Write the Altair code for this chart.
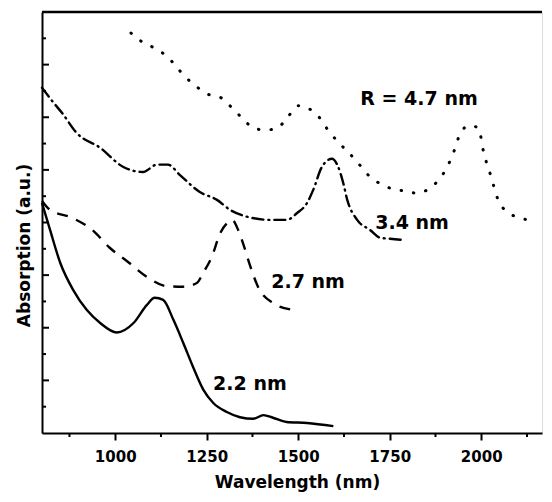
import altair as alt
import pandas as pd

# wavelength (nm) / absorption (a.u.)
wl_22 = [800, 822, 850, 885, 922, 959, 1004, 1050, 1086, 1108, 1131, 1159, 1186,
         1213, 1241, 1268, 1305, 1341, 1377, 1405, 1431, 1468, 1524, 1596]
ab_22 = [4.37, 3.86, 3.23, 2.72, 2.34, 2.09, 1.91, 2.09, 2.43, 2.57, 2.53, 2.15, 1.71,
         1.25, 0.82, 0.57, 0.40, 0.30, 0.27, 0.34, 0.29, 0.21, 0.19, 0.13]

wl_27 = [800, 822, 882, 937, 985, 1035, 1086, 1141, 1185, 1223, 1240, 1264, 1287,
         1306, 1320, 1332, 1349, 1368, 1390, 1431, 1486]
ab_27 = [4.41, 4.24, 4.09, 3.86, 3.52, 3.25, 2.97, 2.79, 2.78, 2.85, 3.04, 3.35, 3.80,
         3.99, 4.05, 3.92, 3.61, 3.19, 2.78, 2.47, 2.34]

wl_34 = [800, 830, 855, 895, 959, 1021, 1076, 1114, 1144, 1177, 1231, 1278, 1314,
         1360, 1423, 1469, 1497, 1524, 1541, 1565, 1592, 1609, 1623, 1634, 1661,
         1696, 1724, 1751, 1786]
ab_34 = [6.56, 6.29, 6.08, 5.70, 5.42, 5.06, 4.96, 5.10, 5.10, 4.90, 4.58, 4.43, 4.24,
         4.11, 4.05, 4.05, 4.18, 4.37, 4.62, 5.06, 5.21, 5.06, 4.75, 4.43, 4.05,
         3.86, 3.71, 3.69, 3.67]

wl_47 = [1043, 1074, 1106, 1139, 1194, 1226, 1256, 1289, 1319, 1349, 1382, 1415,
         1444, 1472, 1500, 1556, 1581, 1609, 1639, 1666, 1693, 1726, 1757, 1789,
         1822, 1884, 1920, 1945, 1967, 1992, 2007, 2026, 2046, 2071, 2106, 2138]
ab_47 = [7.60, 7.43, 7.32, 7.17, 6.75, 6.56, 6.43, 6.37, 6.18, 5.97, 5.78, 5.76,
         5.80, 6.01, 6.22, 6.01, 5.76, 5.53, 5.32, 5.11, 4.89, 4.73, 4.64, 4.60,
         4.56, 4.81, 5.25, 5.72, 5.84, 5.80, 5.32, 4.89, 4.43, 4.20, 4.09, 4.03]

label_text = ["2.2 nm", "2.7 nm", "3.4 nm", "R = 4.7 nm"]
label_wl = [1368, 1527, 1811, 1830]
label_ab = [0.93, 2.87, 3.99, 6.35]

x_ticks = [1000, 1250, 1500, 1750, 2000]
x_minor = [875, 1125, 1375, 1625, 1875, 2125]
y_major = [1, 2, 3, 4, 5, 6, 7]
y_minor = [0.5, 1.5, 2.5, 3.5, 4.5, 5.5, 6.5, 7.5]

W, H = 500, 421
FONT = "DejaVu Sans"

x_enc = alt.X(
    "wl:Q",
    scale=alt.Scale(domain=[800, 2166], nice=False, zero=False),
    axis=alt.Axis(
        values=x_ticks, format="d", grid=False,
        tickSize=7, tickWidth=2, tickColor="black",
        domainColor="black", domainWidth=2,
        labelFont=FONT, labelFontWeight="bold", labelFontSize=15,
        labelColor="black", labelPadding=9,
        title="Wavelength (nm)", titleFont=FONT, titleFontWeight="bold",
        titleFontSize=17, titleColor="black", titleBaseline="middle",
        titleAlign="center", titleX=255, titleY=49,
    ),
)
y_enc = alt.Y(
    "ab:Q",
    scale=alt.Scale(domain=[0, 8], nice=False),
    axis=alt.Axis(
        labels=False, ticks=False, grid=False,
        domainColor="black", domainWidth=2,
        title="Absorption (a.u.)", titleFont=FONT, titleFontWeight="bold",
        titleFontSize=17, titleColor="black", titleAngle=270,
        titleBaseline="middle", titleAlign="center", titleX=-18, titleY=233,
    ),
)


def curve(wl, ab, dash=None, cap="butt", width=2.4):
    df = pd.DataFrame({"wl": wl, "ab": ab})
    kw = dict(color="black", strokeWidth=width, interpolate="monotone", strokeCap=cap)
    if dash:
        kw["strokeDash"] = dash
    return alt.Chart(df).mark_line(**kw).encode(x=x_enc, y=y_enc)


lines = (
    curve(wl_22, ab_22)
    + curve(wl_27, ab_27, [11, 9])
    + curve(wl_34, ab_34, [11, 5, 1, 5], "round")
    + curve(wl_47, ab_47, [0.5, 12], "round", 3)
)

labels = alt.Chart(pd.DataFrame({"wl": label_wl, "ab": label_ab, "t": label_text})).mark_text(
    font=FONT, fontWeight="bold", fontSize=19, color="black", align="center", baseline="middle"
).encode(x=x_enc, y=y_enc, text="t:N")

ymaj = alt.Chart(pd.DataFrame({"ab": y_major})).mark_rule(color="black", strokeWidth=2).encode(
    y=y_enc, x=alt.value(0), x2=alt.value(7)
)
ymin = alt.Chart(pd.DataFrame({"ab": y_minor})).mark_rule(color="black", strokeWidth=2).encode(
    y=y_enc, x=alt.value(0), x2=alt.value(4)
)
xmin = alt.Chart(pd.DataFrame({"wl": x_minor})).mark_rule(color="black", strokeWidth=2).encode(
    x=x_enc, y=alt.value(H), y2=alt.value(H + 4)
)
top = alt.Chart(pd.DataFrame({"wl": [800]})).mark_rule(color="black", strokeWidth=2.5).encode(
    x=alt.value(0), x2=alt.value(W), y=alt.value(0)
)

chart = (
    alt.layer(lines, labels, ymaj, ymin, xmin, top)
    .properties(width=W, height=H, padding={"left": 7, "top": 2, "right": 0, "bottom": 4})
    .configure_view(stroke=None)
    .configure(background="white")
)

chart.save("out.html", embed_options={"renderer": "svg", "actions": False})
